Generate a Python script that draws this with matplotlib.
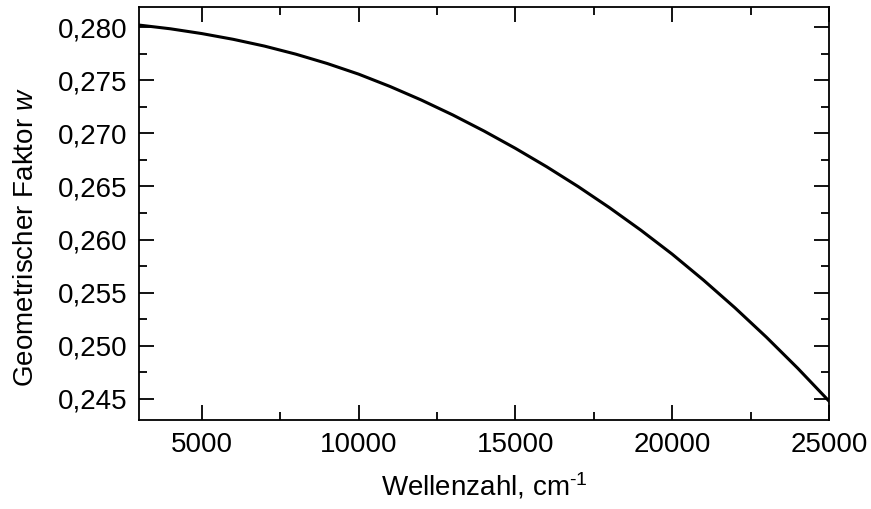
import matplotlib
matplotlib.use("Agg")
import matplotlib.pyplot as plt
from matplotlib.ticker import MultipleLocator, FuncFormatter

# Wellenzahl (cm^-1) und geometrischer Faktor w
wavenumber = [3000, 4000, 5000, 6000, 7000, 8000, 9000, 10000, 11000, 12000,
              13000, 14000, 15000, 16000, 17000, 18000, 19000, 20000, 21000,
              22000, 23000, 24000, 25000]
geo_factor = [0.28020, 0.27985, 0.27940, 0.27886, 0.27822, 0.27746, 0.27658,
              0.27558, 0.27442, 0.27314, 0.27174, 0.27022, 0.26859, 0.26685,
              0.26499, 0.26300, 0.26088, 0.25862, 0.25617, 0.25357, 0.25081,
              0.24788, 0.24478]

plt.rcParams["font.family"] = ["Liberation Sans", "DejaVu Sans"]
plt.rcParams["mathtext.fontset"] = "custom"
plt.rcParams["mathtext.rm"] = "Liberation Sans"
plt.rcParams["mathtext.it"] = "Liberation Sans:italic"

fig = plt.figure(figsize=(8.71, 5.09), dpi=100)
ax = fig.add_axes([0.1596, 0.1749, 0.7922, 0.8113])

ax.plot(wavenumber, geo_factor, color="black", linewidth=2.2)

ax.set_xlim(3000, 25000)
ax.set_ylim(0.2430, 0.2819)

ax.xaxis.set_major_locator(MultipleLocator(5000))
ax.xaxis.set_minor_locator(MultipleLocator(2500))
ax.yaxis.set_major_locator(MultipleLocator(0.005))
ax.yaxis.set_minor_locator(MultipleLocator(0.0025))
ax.yaxis.set_major_formatter(FuncFormatter(lambda v, p: f"{v:.3f}".replace(".", ",")))

ax.tick_params(which="both", direction="in", top=True, right=True,
               width=1.3, labelsize=20, colors="black")
ax.tick_params(which="major", length=11, pad=8.5)
ax.tick_params(which="minor", length=6)
for sp in ax.spines.values():
    sp.set_linewidth(1.3)

ax.set_xlabel(r"Wellenzahl, cm$^{\text{-1}}$", fontsize=20)
ax.set_ylabel("Geometrischer Faktor $w$", fontsize=20)
ax.xaxis.set_label_coords(0.5, -0.1235)
ax.yaxis.set_label_coords(-0.145, 0.443)

fig.savefig("out.png", dpi=100)
